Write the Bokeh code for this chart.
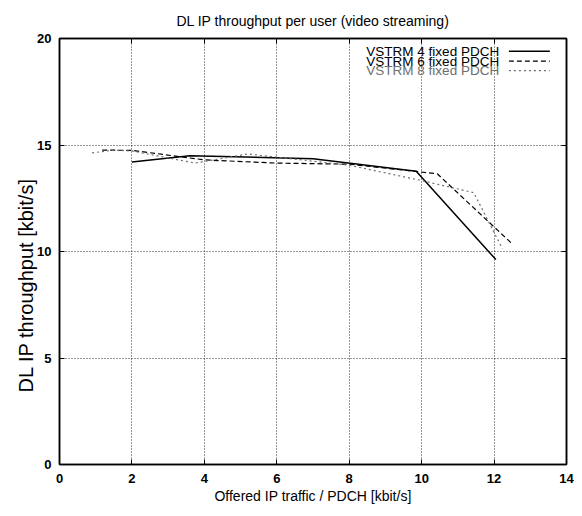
from bokeh.plotting import figure
from bokeh.models import LinearAxis, Range1d, Label, Arrow, FixedTicker, Title
from bokeh.embed import file_html
from bokeh.resources import INLINE

# ---- data ----
x_vstrm4 = [2.0, 3.6, 7.0, 9.85, 12.05]
y_vstrm4 = [14.2, 14.5, 14.35, 13.77, 9.62]

x_vstrm6 = [1.18, 2.0, 4.0, 6.0, 8.0, 10.43, 12.5]
y_vstrm6 = [14.76, 14.75, 14.3, 14.15, 14.1, 13.65, 10.36]

x_vstrm8 = [0.9, 1.5, 2.0, 3.75, 5.2, 8.0, 10.0, 11.44, 12.23]
y_vstrm8 = [14.63, 14.76, 14.72, 14.15, 14.58, 14.05, 13.33, 12.76, 10.13]

series_names = ["VSTRM 4 fixed PDCH", "VSTRM 6 fixed PDCH", "VSTRM 8 fixed PDCH"]
x_ticks = [0, 2, 4, 6, 8, 10, 12, 14]
y_ticks = [0, 5, 10, 15, 20]

FONT = "Liberation Sans"

p = figure(width=574, height=508, output_backend="svg", toolbar_location=None,
           x_range=Range1d(0, 14), y_range=Range1d(0, 20),
           min_border_left=59, min_border_right=8, min_border_top=38, min_border_bottom=44,
           title="DL IP throughput per user (video streaming)")

p.title.align = "center"
p.title.text_font = FONT
p.title.text_font_size = "14px"
p.title.text_font_style = "normal"
p.title.text_color = "black"
p.title.standoff = 19

p.background_fill_color = "white"
p.border_fill_color = "white"
p.outline_line_color = "black"
p.outline_line_width = 1.5

for ax in (p.xaxis[0], p.yaxis[0]):
    ax.major_label_text_font = FONT
    ax.major_label_text_font_size = "13px"
    ax.major_label_text_font_style = "bold"
    ax.major_label_text_color = "black"
    ax.axis_label_text_font = FONT
    ax.axis_label_text_font_size = "14px"
    ax.axis_label_text_font_style = "normal"
    ax.axis_label_text_color = "black"
    ax.major_tick_in = 5
    ax.major_tick_out = 0
    ax.minor_tick_in = 0
    ax.minor_tick_out = 0
    ax.axis_line_width = 1.5
    ax.axis_line_color = "black"
    ax.major_tick_line_color = "black"

p.xaxis[0].ticker = FixedTicker(ticks=x_ticks)
p.yaxis[0].ticker = FixedTicker(ticks=y_ticks)
p.xaxis[0].axis_label = "Offered IP traffic / PDCH [kbit/s]"
p.xaxis[0].major_label_standoff = 9
p.yaxis[0].major_label_standoff = 8
p.xaxis[0].axis_label_standoff = 2

# y-axis title, placed like the reference (left of tick labels, starting above the bottom)
ytitle = Title(text="DL IP throughput [kbit/s]", align="left", offset=72, standoff=-5,
               text_font=FONT, text_font_size="20px", text_font_style="normal",
               text_color="black")
p.add_layout(ytitle, "left")

# mirror axes (ticks only)
top = LinearAxis(ticker=FixedTicker(ticks=x_ticks), major_label_text_font_size="0px",
                 major_tick_in=5, major_tick_out=0, minor_tick_in=0, minor_tick_out=0,
                 axis_line_width=1.5, major_label_standoff=0)
right = LinearAxis(ticker=FixedTicker(ticks=y_ticks), major_label_text_font_size="0px",
                   major_tick_in=5, major_tick_out=0, minor_tick_in=0, minor_tick_out=0,
                   axis_line_width=1.5, major_label_standoff=0)
p.add_layout(top, "above")
p.add_layout(right, "right")

p.xgrid.ticker = FixedTicker(ticks=x_ticks[1:-1])
p.ygrid.ticker = FixedTicker(ticks=y_ticks[1:-1])
for g in (p.xgrid[0], p.ygrid[0]):
    g.grid_line_color = "black"
    g.grid_line_dash = "1 2"
    g.grid_line_width = 1
    g.grid_line_alpha = 0.8

colors = ["black", "black", "#6e6e6e"]
dashes = ["solid", "5 3", "2 3"]
widths = [1.5, 1.2, 1.2]

p.line(x_vstrm4, y_vstrm4, line_color=colors[0], line_dash=dashes[0], line_width=widths[0])
p.line(x_vstrm6, y_vstrm6, line_color=colors[1], line_dash=dashes[1], line_width=widths[1])
p.line(x_vstrm8, y_vstrm8, line_color=colors[2], line_dash=dashes[2], line_width=widths[2])

# gnuplot-style legend: text then sample line, top right
leg_y = [19.40, 18.94, 18.49]
for name, c, d, w, ly in zip(series_names, colors, dashes, widths, leg_y):
    p.add_layout(Label(x=12.14, y=ly, text=name, text_align="right", text_baseline="middle",
                       text_font=FONT, text_font_size="13.5px", text_color=c))
    p.add_layout(Arrow(x_start=12.41, y_start=ly, x_end=13.54, y_end=ly, end=None,
                       line_color=c, line_dash=d, line_width=w))

open("out.html", "w").write(file_html(p, INLINE))
